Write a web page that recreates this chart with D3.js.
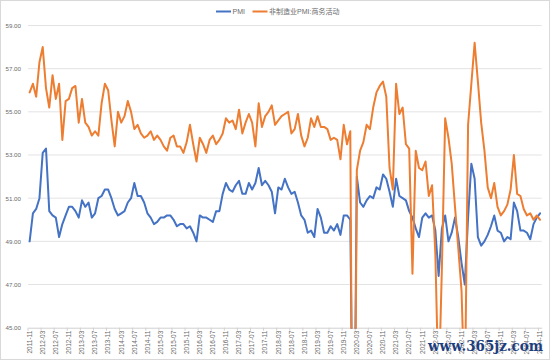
<!DOCTYPE html>
<html>
<head>
<meta charset="utf-8">
<script src="https://cdn.jsdelivr.net/npm/d3@7"></script>
<style>
  html, body { margin: 0; padding: 0; background: #fff; }
  svg { display: block; }
</style>
</head>
<body>
<svg id="chart" width="550" height="360"></svg>
<script>
// ---------------- data ----------------
const startYear = 2011, startMonth = 11, monthCount = 157;
const months = [];
for (let i = 0; i < monthCount; i++) {
  const m = (startMonth - 1 + i) % 12 + 1;
  const y = startYear + Math.floor((startMonth - 1 + i) / 12);
  months.push(y + "-" + (m < 10 ? "0" + m : m));
}

const seriesNames = ["PMI", "非制造业PMI:商务活动"];

const pmi = [
  49.0, 50.3,
  50.5, 51.0, 53.1, 53.3, 50.4, 50.2, 50.1, 49.2, 49.8, 50.2, 50.6, 50.6,
  50.4, 50.1, 50.9, 50.6, 50.8, 50.1, 50.3, 51.0, 51.1, 51.4, 51.4, 51.0,
  50.5, 50.2, 50.3, 50.4, 50.8, 51.0, 51.7, 51.1, 51.1, 50.8, 50.3, 50.1,
  49.8, 49.9, 50.1, 50.1, 50.2, 50.2, 50.0, 49.7, 49.8, 49.8, 49.6, 49.7,
  49.4, 49.0, 50.2, 50.1, 50.1, 50.0, 49.9, 50.4, 50.4, 51.2, 51.7, 51.4,
  51.3, 51.6, 51.8, 51.2, 51.2, 51.7, 51.4, 51.7, 52.4, 51.6, 51.8, 51.6,
  51.3, 50.3, 51.5, 51.4, 51.9, 51.5, 51.2, 51.3, 50.8, 50.2, 50.0, 49.4,
  49.5, 49.2, 50.5, 50.1, 49.4, 49.4, 49.7, 49.5, 49.8, 49.3, 50.2, 50.2,
  50.0, 35.7, 52.0, 50.8, 50.6, 50.9, 51.1, 51.0, 51.5, 51.4, 52.1, 51.9,
  51.3, 50.6, 51.9, 51.1, 51.0, 50.9, 50.4, 50.1, 49.6, 49.2, 50.1, 50.3,
  50.1, 50.2, 49.5, 47.4, 49.6, 50.2, 49.0, 49.4, 50.1, 49.2, 48.0, 47.0,
  50.1, 52.6, 51.9, 49.2, 48.8, 49.0, 49.3, 49.7, 50.2, 49.5, 49.4, 49.0,
  49.2, 49.1, 50.8, 50.4, 49.5, 49.5, 49.4, 49.1, 49.8, 50.1, 50.3
];

const nonMfg = [
  55.9, 56.3,
  55.7, 57.3, 58.0, 56.1, 55.2, 56.7, 55.6, 56.3, 53.7, 55.5, 55.6, 56.1,
  56.2, 54.5, 55.6, 54.5, 54.3, 53.9, 54.1, 53.9, 55.4, 56.3, 56.0, 54.6,
  53.4, 55.0, 54.5, 54.8, 55.5, 55.0, 54.2, 54.4, 54.0, 53.8, 53.9, 54.1,
  53.7, 53.9, 53.7, 53.4, 53.2, 53.8, 53.9, 53.4, 53.4, 53.1, 53.6, 54.4,
  53.5, 52.7, 53.8, 53.5, 53.1, 53.7, 53.9, 53.5, 53.7, 54.0, 54.7, 54.5,
  54.6, 54.2, 55.1, 54.0, 54.5, 54.9, 54.5, 53.4, 55.4, 54.3, 54.8, 55.0,
  55.3, 54.4, 54.6, 54.8, 54.9, 55.0, 54.0, 54.2, 54.9, 53.9, 53.4, 53.8,
  54.7, 54.3, 54.8, 54.3, 54.3, 54.2, 53.7, 53.8, 53.7, 52.8, 54.4, 53.5,
  54.1, 29.6, 52.3, 53.2, 53.6, 54.4, 54.2, 55.2, 55.9, 56.2, 56.4, 55.7,
  52.4, 51.4, 56.3, 54.9, 55.2, 53.5, 53.3, 47.5, 53.2, 52.4, 52.3, 52.7,
  51.1, 51.6, 48.4, 41.9, 47.8, 54.7, 53.8, 52.6, 50.6, 48.7, 46.7, 41.6,
  54.4, 56.3, 58.2, 56.4, 54.5, 53.2, 51.5, 51.0, 51.7, 50.6, 50.2, 50.4,
  50.7, 51.4, 53.0, 51.2, 51.1, 50.5, 50.2, 50.3, 50.0, 50.2, 50.0
];

const yTicks = [45, 47, 49, 51, 53, 55, 57, 59];
const labelEvery = 4;

// ---------------- layout ----------------
const W = 550, H = 360;
const plot = { left: 28, right: 541.7, top: 25.5, bottom: 327.7 };
const colors = ["#4472C4", "#ED7D31"];
const labelFont = "'Liberation Sans', Arial, 'Noto Sans CJK SC', sans-serif";

const svg = d3.select("#chart");

// outer frame
svg.append("rect")
  .attr("x", 0.5).attr("y", 0.5)
  .attr("width", W - 1).attr("height", H - 1)
  .attr("fill", "#fff").attr("stroke", "#d9d9d9");

const x = d3.scaleBand().domain(months).range([plot.left, plot.right]).padding(0);
const xc = d => x(d) + x.bandwidth() / 2;
const y = d3.scaleLinear().domain([45, 59]).range([plot.bottom, plot.top]);

// gridlines
svg.append("g")
  .selectAll("line")
  .data(yTicks.filter(t => t !== 45))
  .join("line")
  .attr("x1", plot.left).attr("x2", plot.right)
  .attr("y1", d => y(d)).attr("y2", d => y(d))
  .attr("stroke", "#e3e3e3").attr("stroke-width", 1);

// y axis labels
const yAxis = d3.axisLeft(y).tickValues(yTicks).tickFormat(d3.format(".2f")).tickSize(0).tickPadding(0);
const gy = svg.append("g").attr("transform", `translate(${plot.left - 7},0)`).call(yAxis);
gy.select(".domain").remove();
gy.selectAll("text")
  .attr("fill", "#6b6b6b")
  .style("font-family", labelFont)
  .style("font-size", "6.2px");

// x axis
const xAxis = d3.axisBottom(x)
  .tickValues(months.filter((m, i) => i % labelEvery === 0))
  .tickSize(0).tickPadding(0);
const gx = svg.append("g").attr("transform", `translate(0,${plot.bottom})`).call(xAxis);
gx.select(".domain").attr("stroke", "#d0d0d0");
gx.selectAll(".tick text")
  .attr("fill", "#6b6b6b")
  .style("font-family", labelFont)
  .style("font-size", "6.5px")
  .attr("text-anchor", "end")
  .attr("transform", "translate(0,3) rotate(-90)")
  .attr("x", 0).attr("y", 0).attr("dy", "0.35em");
// category tick marks at label boundaries
gx.selectAll(".tick").append("line")
  .attr("x1", -x.bandwidth() / 2).attr("x2", -x.bandwidth() / 2)
  .attr("y1", 0).attr("y2", 3)
  .attr("stroke", "#d0d0d0");

// clip for lines
svg.append("clipPath").attr("id", "plotClip")
  .append("rect")
  .attr("x", plot.left).attr("y", plot.top - 5)
  .attr("width", plot.right - plot.left).attr("height", plot.bottom - plot.top + 6);

const line = d3.line()
  .x((d, i) => xc(months[i]))
  .y(d => y(d));

const lines = svg.append("g").attr("clip-path", "url(#plotClip)");
[pmi, nonMfg].forEach((s, k) => {
  lines.append("path")
    .datum(s)
    .attr("d", line)
    .attr("fill", "none")
    .attr("stroke", colors[k])
    .attr("stroke-width", 2)
    .attr("stroke-linejoin", "round")
    .attr("stroke-linecap", "round");
});

// legend
const legend = svg.append("g").attr("transform", "translate(0,11.5)");
const legendItems = [
  { name: seriesNames[0], x0: 216, color: colors[0] },
  { name: seriesNames[1], x0: 252.5, color: colors[1] }
];
legendItems.forEach(it => {
  legend.append("line")
    .attr("x1", it.x0).attr("x2", it.x0 + 15)
    .attr("y1", 0).attr("y2", 0)
    .attr("stroke", it.color).attr("stroke-width", 2);
  legend.append("text")
    .attr("x", it.x0 + 16.5).attr("y", 0).attr("dy", "0.35em")
    .attr("fill", "#6b6b6b")
    .style("font-family", "'Liberation Sans', Arial, 'Noto Sans CJK SC', sans-serif")
    .style("font-size", "7px")
    .text(it.name);
});

// watermark
svg.append("text")
  .attr("x", 428).attr("y", 351)
  .attr("textLength", 115)
  .attr("lengthAdjust", "spacingAndGlyphs")
  .attr("fill", "#1d3e7c")
  .attr("stroke", "#fff").attr("stroke-width", 0.6).attr("paint-order", "stroke")
  .style("font-family", "'DejaVu Serif', 'Liberation Serif', serif")
  .style("font-weight", "bold")
  .style("font-size", "15px")
  .text("www.365jz.com");
</script>
</body>
</html>
